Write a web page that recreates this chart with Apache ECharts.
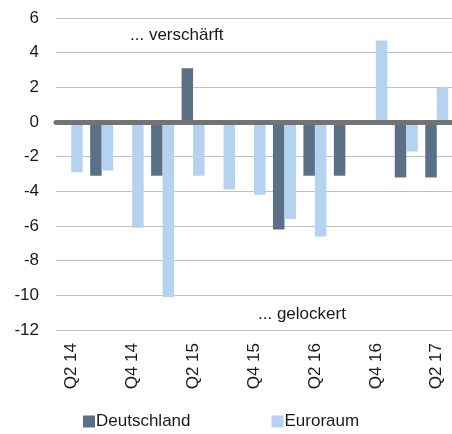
<!DOCTYPE html>
<html>
<head>
<meta charset="utf-8">
<script src="https://cdn.jsdelivr.net/npm/echarts@6/dist/echarts.min.js"></script>
<style>
  html, body { margin: 0; padding: 0; background: #fff; }
  #chart { width: 452px; height: 434px; }
</style>
</head>
<body>
<div id="chart"></div>
<script>
var categories = ['Q2 14', 'Q3 14', 'Q4 14', 'Q1 15', 'Q2 15', 'Q3 15', 'Q4 15',
                  'Q1 16', 'Q2 16', 'Q3 16', 'Q4 16', 'Q1 17', 'Q2 17'];
// '-' = kein Balken
var deutschland = ['-', -3.1, '-', -3.1, 3.1, '-', '-', -6.2, -3.1, -3.1, '-', -3.2, -3.2];
var euroraum = [-2.9, -2.8, -6.1, -10.1, -3.1, -3.9, -4.2, -5.6, -6.6, '-', 4.7, -1.7, 2.0];
var yTicks = [-12, -10, -8, -6, -4, -2, 0, 2, 4, 6];

var font = 'Liberation Sans, Arial, sans-serif';
var chart = echarts.init(document.getElementById('chart'));

chart.setOption({
    animation: false,
    grid: { left: 56, right: -7, top: 18, bottom: 104 },
    legend: {
        left: 83, top: 413, padding: 0,
        itemWidth: 12, itemHeight: 12, itemGap: 81,
        icon: 'rect',
        textStyle: { fontFamily: font, fontSize: 17, color: '#1a1a1a', padding: [0, 0, 0, -4] },
        data: ['Deutschland', 'Euroraum']
    },
    xAxis: {
        type: 'category',
        data: categories,
        z: 5,
        axisLine: { onZero: true, lineStyle: { color: '#737373', width: 5 } },
        axisTick: { show: false },
        axisLabel: {
            interval: 1, rotate: 90, margin: 13,
            fontFamily: font, fontSize: 17, color: '#1a1a1a'
        }
    },
    yAxis: {
        type: 'value',
        min: yTicks[0], max: yTicks[yTicks.length - 1], interval: 2,
        axisLine: { show: false },
        axisTick: { show: false },
        axisLabel: { margin: 17, fontFamily: font, fontSize: 17, color: '#1a1a1a' },
        splitLine: { lineStyle: { color: '#c0c0c0', width: 1 } }
    },
    series: [
        {
            name: 'Deutschland', type: 'bar', data: deutschland,
            barWidth: 11.5, barGap: '0%',
            itemStyle: { color: '#5b7086' }
        },
        {
            name: 'Euroraum', type: 'bar', data: euroraum,
            barWidth: 11.5, barGap: '0%',
            itemStyle: { color: '#b5d3f0' }
        }
    ],
    graphic: [
        {
            type: 'text', left: 130, top: 27,
            style: { text: '... verschärft', font: '17px ' + font, fill: '#1a1a1a' }
        },
        {
            type: 'text', left: 258, top: 306,
            style: { text: '... gelockert', font: '17px ' + font, fill: '#1a1a1a' }
        }
    ]
});
</script>
</body>
</html>
